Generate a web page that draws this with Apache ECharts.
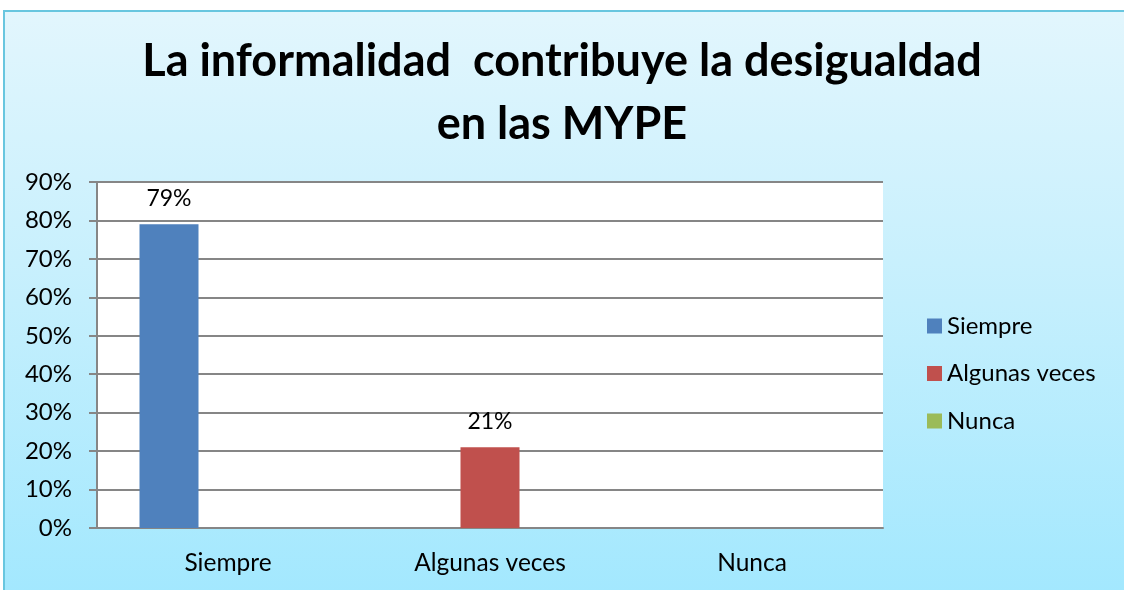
<!DOCTYPE html>
<html>
<head>
<meta charset="utf-8">
<script src="https://cdn.jsdelivr.net/npm/echarts@6/dist/echarts.min.js"></script>
<style>
  html, body { margin: 0; padding: 0; background: #fff; overflow: hidden; }
  .wrap { position: absolute; left: 0; top: 0; width: 1124px; height: 590px; overflow: hidden; }
  .frame {
    position: absolute; left: 3px; top: 10px; width: 1200px; height: 700px;
    border: 2px solid #68c6df;
    background: linear-gradient(to bottom, #e2f6fd 0px, #c4effd 290px, #a3e8fe 580px);
  }
  #chart { position: absolute; left: 0; top: 0; width: 1124px; height: 590px; }
</style>
</head>
<body>
<div class="wrap">
  <div class="frame"></div>
  <div id="chart"></div>
</div>
<script>
const categories = ['Siempre', 'Algunas veces', 'Nunca']
const siempre = [79, null, null]
const algunasVeces = [null, 21, null]
const nunca = [null, null, 0]
const yTicks = [0, 10, 20, 30, 40, 50, 60, 70, 80, 90]

const chart = echarts.init(document.getElementById('chart'), null, { renderer: 'canvas' })

// etiquetas solo para valores distintos de cero
const labelCfg = {
  show: true,
  position: 'top',
  distance: 14,
  color: '#000',
  fontSize: 23,
  fontFamily: 'Lato',
  formatter: p => (p.value ? p.value + '%' : '')
}

const mkSeries = (name, data, color) => ({
  name,
  type: 'bar',
  data,
  barWidth: 59,
  barGap: '0%',
  itemStyle: { color },
  label: labelCfg
})

chart.setOption({
  animation: false,
  backgroundColor: 'transparent',
  title: {
    text: 'La informalidad  contribuye la desigualdad\nen las MYPE',
    left: 'center',
    top: 25,
    textStyle: {
      fontFamily: 'Lato',
      fontWeight: 'bold',
      fontSize: 45,
      lineHeight: 63,
      color: '#000'
    }
  },
  legend: {
    orient: 'vertical',
    left: 922,
    top: 309,
    itemWidth: 15,
    itemHeight: 15,
    itemGap: 23.5,
    icon: 'rect',
    textStyle: { fontFamily: 'Lato', fontSize: 24, lineHeight: 24, color: '#000' },
    data: ['Siempre', 'Algunas veces', 'Nunca']
  },
  grid: { left: 97, right: 241, top: 182, bottom: 62, backgroundColor: '#fff', show: true, borderWidth: 0 },
  xAxis: {
    type: 'category',
    data: categories,
    axisLine: { lineStyle: { color: '#868686', width: 2 } },
    axisTick: { show: false },
    axisLabel: { margin: 23, fontFamily: 'Lato', fontSize: 24.5, color: '#000' }
  },
  yAxis: {
    type: 'value',
    min: yTicks[0],
    max: yTicks[yTicks.length - 1],
    interval: 10,
    axisLine: { show: true, lineStyle: { color: '#868686', width: 2 } },
    axisTick: { show: true, length: 8, lineStyle: { color: '#868686', width: 2 } },
    splitLine: { lineStyle: { color: '#868686', width: 2 } },
    axisLabel: { margin: 25, fontFamily: 'Lato', fontSize: 24, color: '#000', formatter: '{value}%' }
  },
  series: [
    mkSeries('Siempre', siempre, '#4f81bd'),
    mkSeries('Algunas veces', algunasVeces, '#c0504d'),
    mkSeries('Nunca', nunca, '#9bbb59')
  ]
})
</script>
</body>
</html>
